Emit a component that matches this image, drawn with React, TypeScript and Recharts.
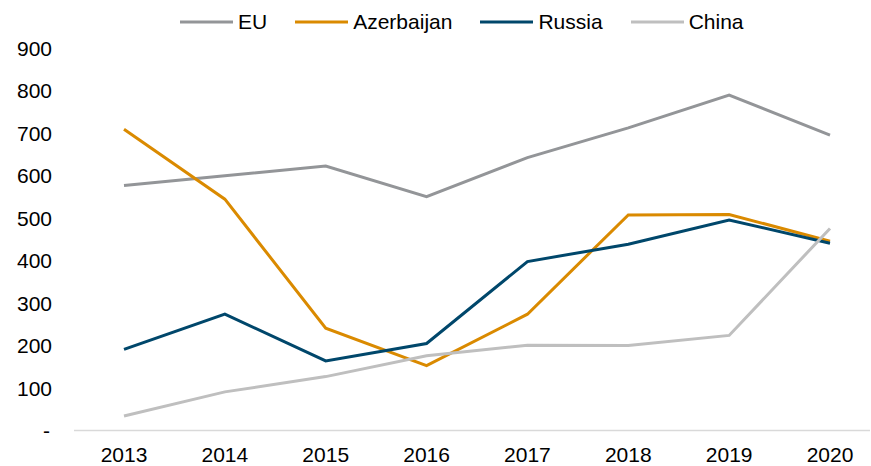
import React from 'react';
import { LineChart, Line, XAxis, YAxis } from 'recharts';

const years = ['2013', '2014', '2015', '2016', '2017', '2018', '2019', '2020'];
const eu = [577, 600, 623, 551, 643, 713, 790, 696];
const azerbaijan = [710, 545, 241, 153, 274, 508, 509, 446];
const russia = [191, 274, 164, 205, 398, 439, 496, 441];
const china = [34, 91, 127, 176, 201, 200, 224, 476];
const yTicks = [0, 100, 200, 300, 400, 500, 600, 700, 800, 900];

const series = [
  { key: 'EU', values: eu, color: '#939598' },
  { key: 'Azerbaijan', values: azerbaijan, color: '#DA8A00' },
  { key: 'Russia', values: russia, color: '#00476B' },
  { key: 'China', values: china, color: '#BFBFBF' },
];

const data = years.map((year, i) => ({
  year,
  EU: eu[i],
  Azerbaijan: azerbaijan[i],
  Russia: russia[i],
  China: china[i],
}));

const FONT = '"Liberation Sans", Arial, sans-serif';

const YTick = (props: any) => {
  const { y, payload } = props;
  const v = payload.value;
  const isZero = v === 0;
  return (
    <text
      x={isZero ? 50 : 52}
      y={y}
      dy="0.355em"
      textAnchor="end"
      fontFamily={FONT}
      fontSize={21}
      fill="#000"
    >
      {isZero ? '-' : v}
    </text>
  );
};

const LegendBox = () => (
  <div
    style={{
      position: 'absolute',
      left: 180,
      top: 10,
      display: 'flex',
      alignItems: 'center',
      fontFamily: FONT,
      fontSize: 21,
      color: '#000',
      lineHeight: '24px',
      whiteSpace: 'nowrap',
    }}
  >
    {series.map((s) => (
      <div key={s.key} style={{ display: 'flex', alignItems: 'center', marginRight: 28 }}>
        <svg width={53} height={4} style={{ marginRight: 5 }}>
          <line x1={0} x2={53} y1={2} y2={2} stroke={s.color} strokeWidth={3} />
        </svg>
        <span>{s.key}</span>
      </div>
    ))}
  </div>
);

export default function App() {
  return (
    <div style={{ position: 'absolute', left: 0, top: 0, width: 871, height: 466, background: '#fff' }}>
      <LineChart
        width={871}
        height={466}
        data={data}
        margin={{ top: 48.5, right: 1, bottom: 0, left: 0 }}
      >
        <XAxis
          dataKey="year"
          padding={{ left: 50, right: 40 }}
          height={35.5}
          tickLine={false}
          axisLine={{ stroke: '#D9D9D9', strokeWidth: 1.5 }}
          tickMargin={11}
          tick={{ fontFamily: FONT, fontSize: 21, fill: '#000' }}
          interval={0}
        />
        <YAxis
          width={74}
          domain={[0, 900]}
          ticks={yTicks}
          axisLine={false}
          tickLine={false}
          tick={<YTick />}
          interval={0}
        />
        {series.map((s) => (
          <Line
            key={s.key}
            dataKey={s.key}
            stroke={s.color}
            strokeWidth={3}
            dot={false}
            activeDot={false}
            isAnimationActive={false}
            strokeLinejoin="miter"
          />
        ))}
      </LineChart>
      <LegendBox />
    </div>
  );
}
